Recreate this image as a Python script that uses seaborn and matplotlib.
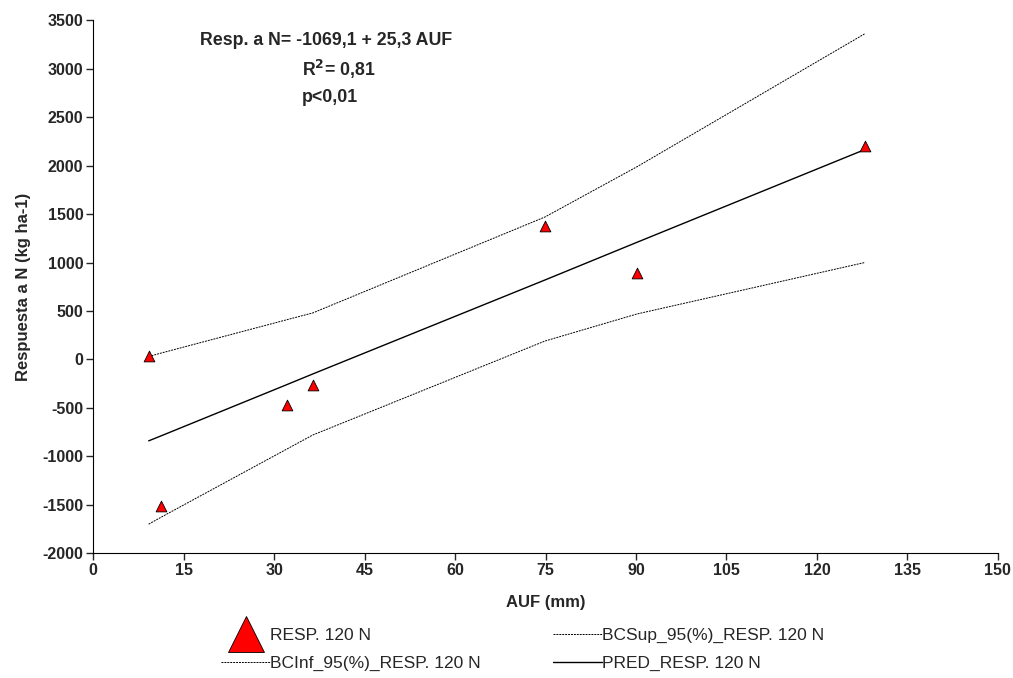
import numpy as np
import pandas as pd
import matplotlib
matplotlib.use('Agg')
import matplotlib.pyplot as plt
import seaborn as sns
from matplotlib.lines import Line2D

# datos
auf = [9.2, 11.2, 32.1, 36.4, 74.9, 90.2, 127.9]
resp = [35, -1515, -467, -267, 1378, 896, 2200]
pred = [-840, -790, -260, -150, 820, 1210, 2165]
bc_sup = [30, 65, 410, 480, 1470, 1990, 3360]
bc_inf = [-1700, -1630, -925, -780, 190, 470, 1000]

x_ticks = [0, 15, 30, 45, 60, 75, 90, 105, 120, 135, 150]
y_ticks = [-2000, -1500, -1000, -500, 0, 500, 1000, 1500, 2000, 2500, 3000, 3500]

df = pd.DataFrame({'AUF': auf, 'RESP': resp, 'PRED': pred,
                   'SUP': bc_sup, 'INF': bc_inf})

sns.set_style('white')
plt.rcParams['font.family'] = ['Liberation Sans', 'DejaVu Sans']
plt.rcParams['axes.unicode_minus'] = False

fig = plt.figure(figsize=(10.13, 6.78), dpi=100)
ax = fig.add_axes([0.092, 0.184, 0.893, 0.786])

dots = (0, (2, 1))
sns.lineplot(data=df, x='AUF', y='SUP', ax=ax, color='black', lw=0.7, linestyle=dots)
sns.lineplot(data=df, x='AUF', y='INF', ax=ax, color='black', lw=0.7, linestyle=dots)
sns.lineplot(data=df, x='AUF', y='PRED', ax=ax, color='black', lw=1.0)
sns.scatterplot(data=df, x='AUF', y='RESP', ax=ax, marker='^', color='red',
                edgecolor='black', linewidth=0.6, s=60, zorder=5)

ax.set_xlim(0, 150)
ax.set_ylim(-2000, 3500)
ax.set_xticks(x_ticks)
ax.set_yticks(y_ticks)
ax.tick_params(axis='both', direction='out', length=5, width=1, labelsize=11.5,
               bottom=True, left=True, pad=2)
for lab in ax.get_xticklabels() + ax.get_yticklabels():
    lab.set_fontweight('bold')
ax.spines['top'].set_visible(False)
ax.spines['right'].set_visible(False)
ax.spines['left'].set_color('black')
ax.spines['bottom'].set_color('black')
ax.set_xlabel('AUF (mm)', fontsize=12, fontweight='bold', labelpad=12)
ax.set_ylabel('Respuesta a N (kg ha-1)', fontsize=12, fontweight='bold', labelpad=8)

ax.text(17.7, 3294, 'Resp. a N= -1069,1 + 25,3 AUF', fontsize=12.8, fontweight='bold', va='center')
ax.text(34.6, 2994, 'R$^\\mathbf{2}$= 0,81', fontsize=12.8, fontweight='bold', va='center')
ax.text(34.6, 2705, 'p<0,01', fontsize=12.8, fontweight='bold', va='center')

handles = [
    Line2D([], [], marker='^', color='red', markeredgecolor='black', markeredgewidth=0.6,
           markersize=26, linestyle='none'),
    Line2D([], [], color='black', lw=0.7, linestyle=dots),
    Line2D([], [], color='black', lw=0.7, linestyle=dots),
    Line2D([], [], color='black', lw=1.0),
]
labels = ['RESP. 120 N', 'BCInf_95(%)_RESP. 120 N', 'BCSup_95(%)_RESP. 120 N', 'PRED_RESP. 120 N']
fig.legend(handles, labels, loc='lower center', bbox_to_anchor=(0.516, -0.013), ncol=2,
           frameon=False, fontsize=12.5, handlelength=2.8, handletextpad=0.0,
           columnspacing=4.2, labelspacing=0.75)

fig.savefig('out.png', dpi=100)
